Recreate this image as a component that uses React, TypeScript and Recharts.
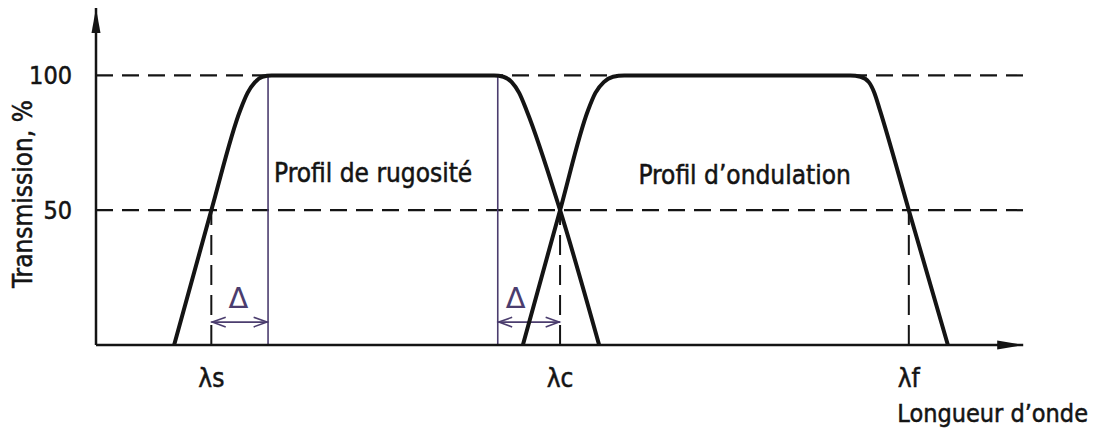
import { Line, LineChart, ReferenceLine, XAxis, YAxis } from "recharts";

// Wavelength on an arbitrary 0..100 axis, transmission in %.
const roughX = [8.4, 12.4, 15.5, 16.3, 17.1, 17.9, 18.9, 42.8, 43.8, 44.7, 45.5, 46.3, 49.9, 54.1];
const roughT = [0, 50, 87, 93.5, 97.5, 99.5, 100, 100, 99.5, 97.5, 93.5, 87, 50, 0];

const waveX = [45.9, 49.9, 52.9, 53.7, 54.6, 55.6, 56.8, 81.1, 82.2, 83.1, 83.7, 84.3, 87.4, 91.6];
const waveT = [0, 50, 87, 93.5, 97.5, 99.5, 100, 100, 99.5, 97.5, 93.5, 87, 50, 0];

const cutoffs = [12.4, 49.9, 87.4];
const cutoffLabels = ["λs", "λc", "λf"];
const yTicks = [50, 100];

// band edges (thin verticals) and the Δ spans
const bandEdges = [18.5, 43.2];
const deltaSpans: [number, number][] = [
  [12.4, 18.5],
  [43.2, 49.9],
];

const roughness = roughX.map((x, i) => ({ x, t: roughT[i] }));
const waviness = waveX.map((x, i) => ({ x, t: waveT[i] }));

const INK = "#141414";
const VIOLET = "#4b3d6e";
const FONT = "'DejaVu Sans Condensed', 'DejaVu Sans', sans-serif";
const DASH = "17 9";
const TEXT_WEIGHT = { stroke: INK, strokeWidth: 0.5 };

function AxisArrow(props: any) {
  const { x1, y1, x2, y2 } = props;
  const vertical = Math.abs(x1 - x2) < 1;
  const head = vertical
    ? `${x2},${y2} ${x2 - 4.5},${y2 + 25} ${x2 + 4.5},${y2 + 25}`
    : `${x2},${y2} ${x2 - 26},${y2 - 4.5} ${x2 - 26},${y2 + 4.5}`;
  return (
    <g>
      <line x1={x1} y1={y1} x2={x2} y2={y2} stroke={INK} strokeWidth={2.5} />
      <polygon points={head} fill={INK} />
    </g>
  );
}

function DeltaArrow(props: any) {
  const { x1, y1, x2, y2 } = props;
  const h = 8;
  return (
    <g stroke={VIOLET} strokeWidth={1.6} fill="none">
      <line x1={x1} y1={y1} x2={x2} y2={y2} />
      <polyline points={`${x1 + h * 1.8},${y1 - h * 0.6} ${x1 + 1},${y1} ${x1 + h * 1.8},${y1 + h * 0.6}`} />
      <polyline points={`${x2 - h * 1.8},${y2 - h * 0.6} ${x2 - 1},${y2} ${x2 - h * 1.8},${y2 + h * 0.6}`} />
    </g>
  );
}

function deltaLabel(shift: number) {
  return (p: any) => {
    const vb = p.viewBox;
    return (
      <text
        x={vb.x + shift}
        y={vb.y - 14}
        textAnchor="middle"
        fill={VIOLET}
        fontSize={29}
        fontFamily="'DejaVu Sans', sans-serif"
      >
        Δ
      </text>
    );
  };
}

function bandLabel(text: string, dx: number, dy: number) {
  return (p: any) => {
    const vb = p.viewBox;
    return (
      <text x={vb.x + dx} y={vb.y + dy} fill={INK} fontSize={26} fontFamily={FONT} {...TEXT_WEIGHT}>
        {text}
      </text>
    );
  };
}

export default function App() {
  return (
    <div style={{ position: "absolute", left: 0, top: 0, background: "#fff" }}>
      <LineChart
        width={1097}
        height={434}
        margin={{ top: 8, right: 71, left: 0, bottom: 0 }}
      >
        <XAxis
          type="number"
          dataKey="x"
          domain={[0, 100]}
          ticks={cutoffs}
          tickFormatter={(v: number) => cutoffLabels[cutoffs.indexOf(v)] ?? ""}
          axisLine={false}
          tickLine={false}
          tickSize={0}
          tickMargin={24}
          height={89}
          tick={{ fontSize: 26, fill: INK, fontFamily: FONT, ...TEXT_WEIGHT }}
          label={(p: any) => {
            const vb = p.viewBox;
            return (
              <text
                x={vb.x + vb.width + 62}
                y={vb.y + 77}
                textAnchor="end"
                fill={INK}
                fontSize={25}
                fontFamily={FONT}
                {...TEXT_WEIGHT}
              >
                Longueur d’onde
              </text>
            );
          }}
        />
        <YAxis
          type="number"
          domain={[0, 125]}
          ticks={yTicks}
          axisLine={false}
          tickLine={false}
          tickSize={0}
          tickMargin={24}
          width={96}
          tick={{ fontSize: 25, fill: INK, fontFamily: FONT, ...TEXT_WEIGHT }}
          label={(p: any) => {
            const vb = p.viewBox;
            const cx = vb.x + 32;
            const cy = vb.y + 186;
            return (
              <text
                x={cx}
                y={cy}
                transform={`rotate(-90 ${cx} ${cy})`}
                textAnchor="middle"
                fill={INK}
                fontSize={26}
                fontFamily={FONT}
                {...TEXT_WEIGHT}
              >
                Transmission, %
              </text>
            );
          }}
        />

        {yTicks.map((t) => (
          <ReferenceLine key={`h${t}`} y={t} stroke={INK} strokeWidth={2.2} strokeDasharray={DASH} />
        ))}

        {cutoffs.map((c) => (
          <ReferenceLine
            key={`v${c}`}
            segment={[{ x: c, y: 0 }, { x: c, y: 50 }]}
            stroke={INK}
            strokeWidth={2}
            strokeDasharray="20 10"
          />
        ))}

        <ReferenceLine
          segment={[{ x: bandEdges[0], y: 0 }, { x: bandEdges[0], y: 100 }]}
          stroke={VIOLET}
          strokeWidth={1.6}
          label={bandLabel("Profil de rugosité", 6, 107)}
        />
        <ReferenceLine
          segment={[{ x: bandEdges[1], y: 0 }, { x: bandEdges[1], y: 100 }]}
          stroke={VIOLET}
          strokeWidth={1.6}
        />
        <ReferenceLine
          segment={[{ x: 58, y: 100 }, { x: 58, y: 100 }]}
          stroke="none"
          label={bandLabel("Profil d’ondulation", 3, 109)}
        />

        {deltaSpans.map(([a, b], i) => (
          <ReferenceLine
            key={`d${i}`}
            segment={[{ x: a, y: 8.5 }, { x: b, y: 8.5 }]}
            shape={DeltaArrow}
            label={deltaLabel(i === 0 ? 27 : 18)}
          />
        ))}

        <ReferenceLine segment={[{ x: 0, y: 0 }, { x: 0, y: 125 }]} shape={AxisArrow} />
        <ReferenceLine segment={[{ x: 0, y: 0 }, { x: 99.7, y: 0 }]} shape={AxisArrow} />

        <Line
          data={roughness}
          dataKey="t"
          type="monotone"
          stroke={INK}
          strokeWidth={4}
          dot={false}
          activeDot={false}
          isAnimationActive={false}
        />
        <Line
          data={waviness}
          dataKey="t"
          type="monotone"
          stroke={INK}
          strokeWidth={4}
          dot={false}
          activeDot={false}
          isAnimationActive={false}
        />
      </LineChart>
    </div>
  );
}
